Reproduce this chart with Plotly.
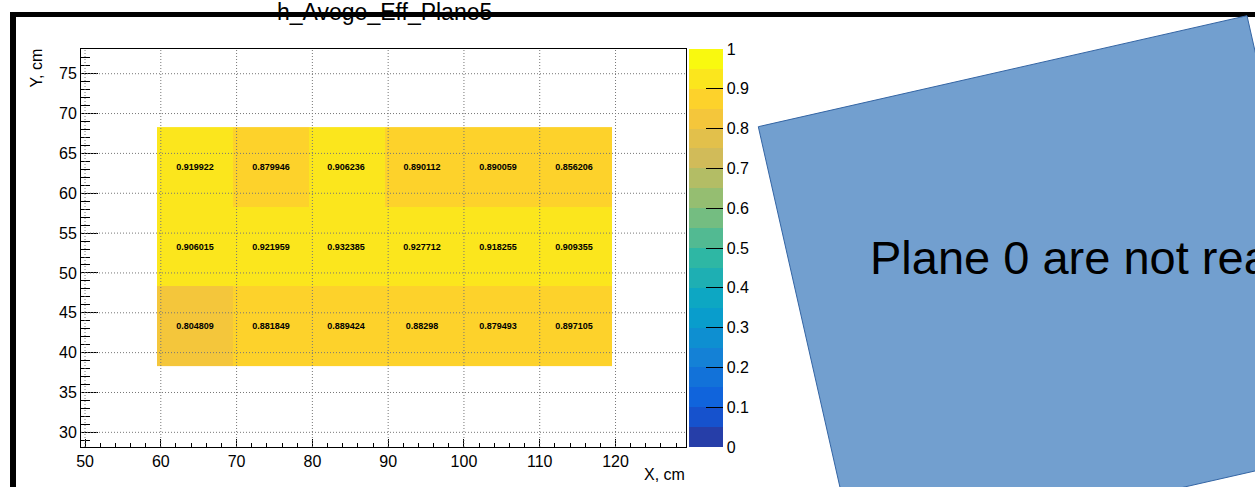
import plotly.graph_objects as go

# ---------------------------------------------------------------------------
# Efficiency map data (bin centres in cm, average efficiency per cell)
# ---------------------------------------------------------------------------
x_centres = [64.5, 74.5, 84.5, 94.5, 104.5, 114.5]
y_centres = [43.3, 53.3, 63.3]

eff_row_y43 = [0.804809, 0.881849, 0.889424, 0.88298, 0.879493, 0.897105]
eff_row_y53 = [0.906015, 0.921959, 0.932385, 0.927712, 0.918255, 0.909355]
eff_row_y63 = [0.919922, 0.879946, 0.906236, 0.890112, 0.890059, 0.856206]

x_ticks = [50, 60, 70, 80, 90, 100, 110, 120]
y_ticks = [30, 35, 40, 45, 50, 55, 60, 65, 70, 75]
z_ticks = [0, 0.1, 0.2, 0.3, 0.4, 0.5, 0.6, 0.7, 0.8, 0.9, 1.0]
z_tick_labels = ["0", "0.1", "0.2", "0.3", "0.4", "0.5", "0.6", "0.7", "0.8", "0.9", "1"]

hist_title = "h_Avege_Eff_Plane5"
note_text = "Plane 0 are not rea"

z = [eff_row_y43, eff_row_y53, eff_row_y63]
cell_text = [[f"{v:g}" for v in row] for row in z]

# ---------------------------------------------------------------------------
# ROOT "kBird" palette, 255-colour gradient, 20 contour levels
# ---------------------------------------------------------------------------
BIRD_STOPS = [0.0, 0.125, 0.25, 0.375, 0.5, 0.625, 0.75, 0.875, 1.0]
BIRD_R = [0.2082, 0.0592, 0.0780, 0.0232, 0.1802, 0.5301, 0.8186, 0.9956, 0.9764]
BIRD_G = [0.1664, 0.3599, 0.5041, 0.6419, 0.7178, 0.7492, 0.7328, 0.7862, 0.9832]
BIRD_B = [0.5293, 0.8684, 0.8385, 0.7914, 0.6425, 0.4662, 0.3499, 0.1968, 0.0539]
N_COLORS = 255
N_LEVELS = 20


def gradient_table():
    table = []
    for g in range(1, len(BIRD_STOPS)):
        n = int(N_COLORS * BIRD_STOPS[g]) - int(N_COLORS * BIRD_STOPS[g - 1])
        for c in range(n):
            f = c / n
            table.append((
                BIRD_R[g - 1] + f * (BIRD_R[g] - BIRD_R[g - 1]),
                BIRD_G[g - 1] + f * (BIRD_G[g] - BIRD_G[g - 1]),
                BIRD_B[g - 1] + f * (BIRD_B[g] - BIRD_B[g - 1]),
            ))
    return table


palette = gradient_table()
colorscale = []
for i in range(N_LEVELS):
    idx = min(int((i + 0.99) * N_COLORS / N_LEVELS), len(palette) - 1)
    r, g, b = palette[idx]
    col = f"rgb({round(r * 255)},{round(g * 255)},{round(b * 255)})"
    colorscale.append([i / N_LEVELS, col])
    colorscale.append([(i + 1) / N_LEVELS, col])

# ---------------------------------------------------------------------------
# Page geometry (pixels) and helpers to place decorations in paper units
# ---------------------------------------------------------------------------
W, H = 1255, 487
L, R, T, B = 81, 686, 49, 447


def px(xp):
    return (xp - L) / (R - L)


def py(yp):
    return (B - yp) / (B - T)


X_RANGE = [49.47, 129.3]
Y_RANGE = [28.16, 78.1]

FONT = "Liberation Sans, Arial, Helvetica, sans-serif"

fig = go.Figure()

fig.add_trace(go.Heatmap(
    x=x_centres,
    y=y_centres,
    z=z,
    text=cell_text,
    texttemplate="%{text}",
    textfont=dict(family=FONT, size=9, color="black", weight="bold"),
    colorscale=colorscale,
    zmin=0,
    zmax=1,
    hoverinfo="skip",
    colorbar=dict(
        x=px(689), xref="paper", xanchor="left",
        y=0.5, yanchor="middle", yref="paper",
        len=1, lenmode="fraction",
        thickness=34, thicknessmode="pixels",
        xpad=0, ypad=0,
        outlinewidth=0,
        tickmode="array",
        tickvals=z_ticks,
        ticktext=z_tick_labels,
        ticks="inside", ticklen=17, tickwidth=1, tickcolor="black",
        tickfont=dict(family=FONT, size=16, color="black"),
    ),
))

axis_common = dict(
    showline=True, linecolor="black", linewidth=1, mirror=True,
    ticks="inside", tickcolor="black", tickwidth=1,
    showgrid=False, zeroline=False,
    tickfont=dict(family=FONT, size=16, color="black"),
)

fig.update_xaxes(
    range=X_RANGE, tickmode="array", tickvals=x_ticks, ticklen=8,
    minor=dict(dtick=2, tick0=50, ticks="inside", ticklen=4, tickcolor="black", showgrid=False),
    **axis_common,
)
fig.update_yaxes(
    range=Y_RANGE, tickmode="array", tickvals=y_ticks, ticklen=17,
    minor=dict(dtick=1, tick0=30, ticks="inside", ticklen=9, tickcolor="black", showgrid=False),
    **axis_common,
)

shapes = []
# dotted grid drawn over the cells
for xv in x_ticks:
    if X_RANGE[0] < xv < X_RANGE[1]:
        shapes.append(dict(type="line", xref="x", yref="paper", x0=xv, x1=xv, y0=0, y1=1,
                           line=dict(color="#777777", width=1, dash="1px,2px"), layer="above"))
for yv in y_ticks:
    shapes.append(dict(type="line", xref="paper", yref="y", x0=0, x1=1, y0=yv, y1=yv,
                       line=dict(color="#777777", width=1, dash="1px,2px"), layer="above"))

# slide frame
shapes.append(dict(type="line", xref="paper", yref="paper",
                   x0=px(10), x1=px(1300), y0=py(14.5), y1=py(14.5),
                   line=dict(color="black", width=5), layer="above"))
shapes.append(dict(type="line", xref="paper", yref="paper",
                   x0=px(13), x1=px(13), y0=py(12), y1=py(520),
                   line=dict(color="black", width=6), layer="above"))

# rotated note box
box = [(758.3, 126.7), (1247.0, 15.7), (1345.5, 450.4), (856.8, 561.5)]
path = "M " + " L ".join(f"{px(a):.5f},{py(b):.5f}" for a, b in box) + " Z"
shapes.append(dict(type="path", xref="paper", yref="paper", path=path,
                   fillcolor="#729fcf", line=dict(color="#3465a4", width=1), layer="above"))

annotations = [
    dict(text=hist_title, xref="paper", yref="paper", x=px(384), y=py(11.9),
         xanchor="center", yanchor="middle", showarrow=False,
         font=dict(family=FONT, size=23, color="black")),
    dict(text="X, cm", xref="paper", yref="paper", x=px(687), y=py(474.7),
         xanchor="right", yanchor="middle", showarrow=False,
         font=dict(family=FONT, size=16, color="black")),
    dict(text="Y, cm", xref="paper", yref="paper", x=px(36), y=py(47),
         xanchor="center", yanchor="top", textangle=-90, showarrow=False,
         font=dict(family=FONT, size=16, color="black")),
    dict(text=note_text, xref="paper", yref="paper", x=px(868), y=py(257.5),
         xanchor="left", yanchor="middle", showarrow=False,
         font=dict(family=FONT, size=47, color="black")),
]

fig.update_layout(
    width=W, height=H,
    margin=dict(l=L, r=W - R, t=T, b=H - B, pad=0),
    paper_bgcolor="white",
    plot_bgcolor="white",
    shapes=shapes,
    annotations=annotations,
    showlegend=False,
)

fig.write_html("out.html")
